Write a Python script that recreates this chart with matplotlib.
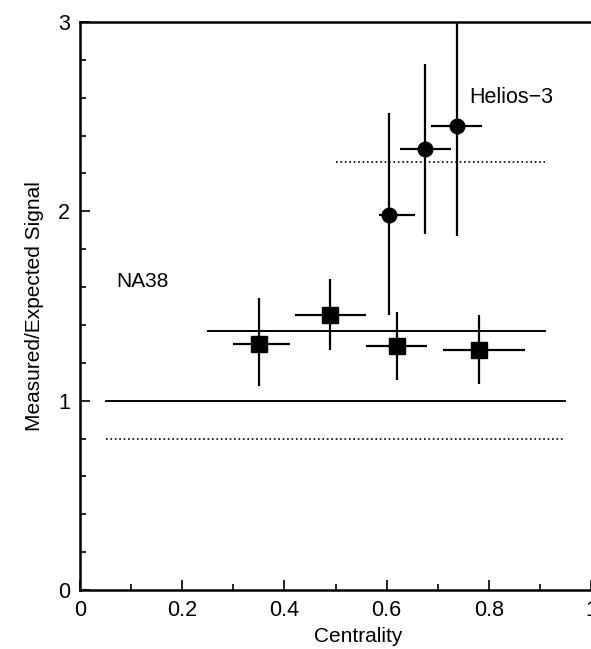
import matplotlib
matplotlib.use("Agg")
import matplotlib.pyplot as plt
from matplotlib.ticker import MultipleLocator

plt.rcParams.update({
    "font.family": ["Liberation Sans", "DejaVu Sans"],
    "font.size": 15,
})

# NA38 points (squares)
na38_x = [0.35, 0.49, 0.62, 0.78]
na38_y = [1.30, 1.45, 1.29, 1.27]
na38_xlo = [0.05, 0.07, 0.06, 0.07]
na38_xhi = [0.06, 0.07, 0.06, 0.09]
na38_ylo = [0.22, 0.18, 0.18, 0.18]
na38_yhi = [0.24, 0.19, 0.18, 0.18]

# Helios-3 points (circles)
hel_x = [0.605, 0.676, 0.737]
hel_y = [1.98, 2.33, 2.45]
hel_xlo = [0.02, 0.05, 0.05]
hel_xhi = [0.05, 0.05, 0.05]
hel_ylo = [0.53, 0.45, 0.58]
hel_yhi = [0.54, 0.45, 0.60]

# expected-signal reference levels: (y, x start, x end, style)
ref_levels = [
    (1.37, 0.25, 0.91, "-"),
    (2.26, 0.50, 0.91, ":"),
    (1.00, 0.05, 0.95, "-"),
    (0.80, 0.05, 0.95, ":"),
]

fig = plt.figure(figsize=(5.91, 6.49), dpi=100)
ax = fig.add_axes([80 / 591, 59 / 649, 511 / 591, 568 / 649])

for y, x0, x1, ls in ref_levels:
    ax.plot([x0, x1], [y, y], color="black", linestyle=ls,
            linewidth=1.4 if ls == "-" else 1.2)

ax.errorbar(na38_x, na38_y, xerr=[na38_xlo, na38_xhi], yerr=[na38_ylo, na38_yhi],
            fmt="s", color="black", markersize=11.5, elinewidth=1.6, capsize=0)
ax.errorbar(hel_x, hel_y, xerr=[hel_xlo, hel_xhi], yerr=[hel_ylo, hel_yhi],
            fmt="o", color="black", markersize=10.5, elinewidth=1.6, capsize=0)

ax.text(0.762, 2.60, "Helios\u22123", fontsize=15.5, va="center")
ax.text(0.07, 1.63, "NA38", fontsize=15, va="center")

ax.set_xlim(0, 1)
ax.set_ylim(0, 3)
ax.xaxis.set_minor_locator(MultipleLocator(0.1))
ax.yaxis.set_minor_locator(MultipleLocator(0.2))
ax.set_xticks([0, 0.2, 0.4, 0.6, 0.8, 1.0])
ax.set_xticklabels(["0", "0.2", "0.4", "0.6", "0.8", "1"])
ax.set_yticks([0, 1, 2, 3])
ax.set_yticklabels(["0", "1", "2", "3"])
ax.tick_params(which="both", direction="in", top=False, right=False, width=1.2)
ax.tick_params(which="major", length=7, labelsize=15.5, pad=7)
ax.tick_params(which="minor", length=4)
for s in ax.spines.values():
    s.set_linewidth(1.8)
ax.spines["right"].set_visible(False)

ax.set_xlabel("Centrality", fontsize=15, labelpad=6)
ax.xaxis.set_label_coords(0.545, -0.065)
ax.set_ylabel("Measured/Expected Signal", fontsize=15, labelpad=10)

fig.savefig("out.png", dpi=100, facecolor="white")
